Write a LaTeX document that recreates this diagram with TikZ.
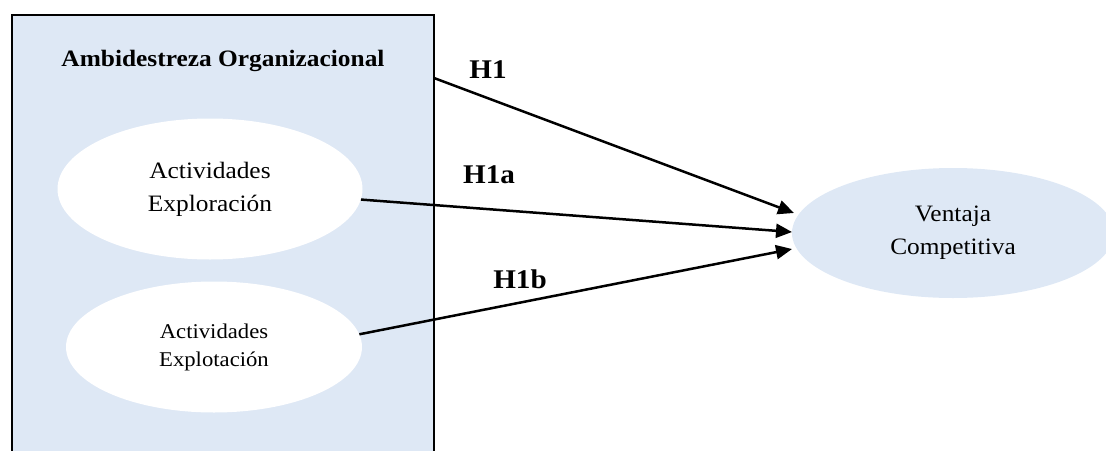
\documentclass[tikz,border=0pt]{standalone}
\usepackage{fontspec}
\setmainfont{Liberation Serif}[FakeStretch=1.08]
\usetikzlibrary{arrows.meta,shapes.geometric}

\definecolor{paleblue}{RGB}{222,232,245}

\tikzset{
  frame/.style={draw=black, line width=2.5pt, fill=paleblue},
  construct/.style={ellipse, fill=white, inner sep=0pt, align=center,
    font=\fontsize{23.5}{33}\selectfont},
  outcome/.style={ellipse, fill=paleblue, inner sep=0pt, align=center,
    font=\fontsize{23.5}{33}\selectfont},
  link/.style={line width=2.5pt, -{Triangle[length=16pt,width=14pt]}},
  hyp/.style={font=\fontsize{27}{30}\selectfont\bfseries, inner sep=0pt}
}

\begin{document}
\begin{tikzpicture}[x=1pt,y=-1pt]
  \useasboundingbox (0,0) rectangle (1106,450);
  \clip (0,0) rectangle (1106,450);

  % Outer construct box (runs off the lower edge)
  \draw[frame] (12,15) rectangle (434,480);
  \node[font=\fontsize{23.5}{28}\selectfont\bfseries] (title) at (223,61)
    {Ambidestreza Organizacional};

  % Dimensions of ambidexterity
  \node[construct, minimum width=305pt, minimum height=141pt] (explor) at (210,189)
    {Actividades\\Exploración};
  \node[construct, minimum width=296pt, minimum height=131pt,
        font=\fontsize{21}{28}\selectfont] (explot) at (214,347)
    {Actividades\\Explotación};

  % Dependent construct
  \node[outcome, minimum width=322pt, minimum height=130pt] (vent) at (953,233)
    {Ventaja\\Competitiva};

  % Arrow ends
  \coordinate (src1) at (434,78);
  \coordinate (tip1) at (794,213);
  \coordinate (tip2) at (792,232);
  \coordinate (tip3) at (792,249);

  \draw[link] (src1) -- (tip1);
  \draw[link] (explor.-4) -- (tip2);
  \draw[link] (explot.5) -- (tip3);

  % Hypothesis labels
  \node[hyp] (h1) at (488,70) {H1};
  \node[hyp] (h1a) at (489,175) {H1a};
  \node[hyp] (h1b) at (520,279) {H1b};
\end{tikzpicture}
\end{document}
